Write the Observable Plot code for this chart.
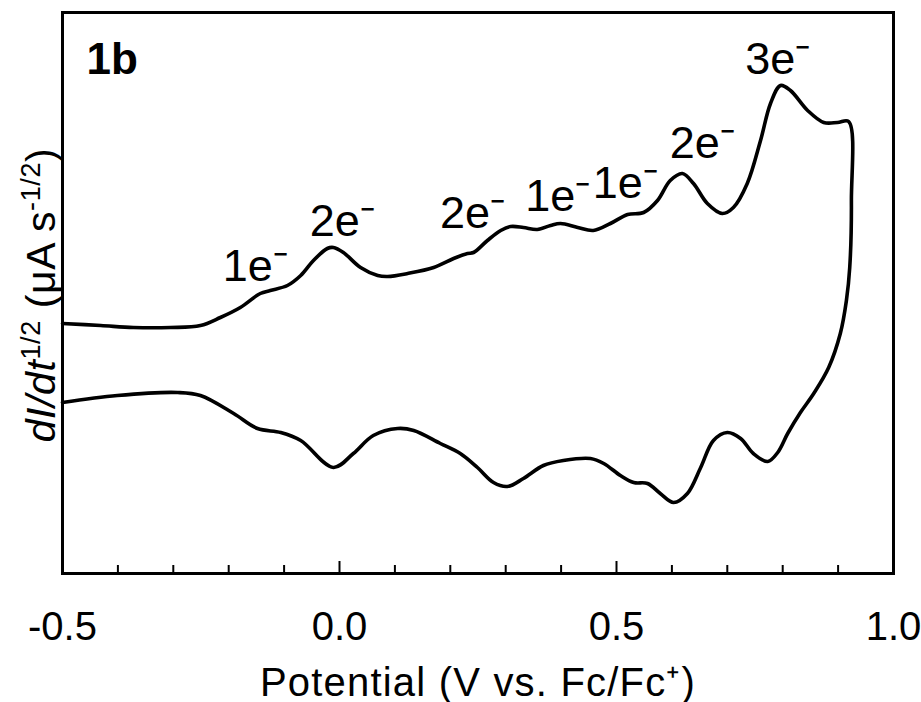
<!DOCTYPE html>
<html>
<head>
<meta charset="utf-8">
<script src="https://cdn.jsdelivr.net/npm/d3@7"></script>
<script src="https://cdn.jsdelivr.net/npm/@observablehq/plot@0.6"></script>
<style>
  html, body { margin: 0; padding: 0; background: #fff; }
  #chart svg { display: block; }
</style>
</head>
<body>
<div id="chart"></div>
<script>
// Potential (V vs. Fc/Fc+) and dI/dt^1/2 (arbitrary units)
const forwardV = [-0.500,-0.431,-0.372,-0.305,-0.251,-0.215,-0.179,-0.143,-0.125,-0.094,-0.070,-0.047,-0.022,-0.011,0.007,0.038,0.069,0.087,0.123,0.170,0.206,0.231,0.242,0.267,0.291,0.309,0.332,0.357,0.381,0.399,0.430,0.458,0.489,0.520,0.549,0.574,0.597,0.619,0.639,0.664,0.691,0.711,0.736,0.760,0.778,0.796,0.814,0.845,0.874,0.899,0.919];
const forwardI = [25.0,24.8,24.6,24.6,24.8,25.6,26.6,28.0,28.3,28.8,29.8,31.3,32.5,32.6,32.1,30.6,29.8,29.7,30.0,30.6,31.5,32.0,32.1,33.3,34.3,34.7,34.6,34.4,34.8,35.0,34.6,34.3,35.0,35.9,36.1,37.3,39.3,40.0,39.0,37.0,36.0,36.6,39.0,43.3,47.0,48.8,48.3,46.3,45.1,45.1,45.2];
const reverseV = [0.924,0.921,0.915,0.904,0.883,0.856,0.832,0.809,0.791,0.773,0.747,0.724,0.700,0.675,0.652,0.628,0.603,0.579,0.556,0.531,0.507,0.477,0.453,0.404,0.368,0.332,0.303,0.278,0.249,0.218,0.182,0.134,0.105,0.061,0.025,-0.011,-0.070,-0.106,-0.148,-0.191,-0.251,-0.292,-0.401,-0.500];
const reverseI = [37.3,30.6,27.3,24.0,20.6,18.0,16.1,14.0,12.1,11.2,12.0,13.5,14.1,13.3,10.6,8.0,7.1,8.0,9.0,9.1,9.8,11.0,11.5,11.3,10.8,9.5,8.7,9.1,10.6,12.0,13.0,14.3,14.5,13.8,12.0,10.6,13.3,14.1,14.5,16.0,17.8,18.1,17.8,17.1];

// annotations: label, potential, level of the label baseline
const annLabels = ["1e⁻","2e⁻","2e⁻","1e⁻","1e⁻","2e⁻","3e⁻"];
const annV = [-0.152,0.005,0.240,0.394,0.516,0.655,0.791];
const annI = [29.3,33.8,34.6,36.3,37.6,41.6,50.0];

const majorTicks = [-0.5, 0.0, 0.5, 1.0];
const minorTicks = [-0.4,-0.3,-0.2,-0.1,0.1,0.2,0.3,0.4,0.6,0.7,0.8,0.9];
const panelLabel = "1b";
const xTitle = "Potential (V vs. Fc/Fc⁺)";

const curve = [
  ...forwardV.map((v, i) => ({v, i: forwardI[i]})),
  ...reverseV.map((v, i) => ({v, i: reverseI[i]}))
];
const anns = annLabels.map((t, k) => ({t, v: annV[k], i: annI[k]}));

const FONT = "'Liberation Sans', Arial, Helvetica, sans-serif";

const chart = Plot.plot({
  width: 921,
  height: 702,
  marginLeft: 62,
  marginRight: 28,
  marginTop: 12,
  marginBottom: 129,
  style: {fontFamily: FONT, background: "#fff", color: "#000", overflow: "visible"},
  x: {domain: [-0.5, 1.0]},
  y: {domain: [0, 56.1], axis: null},
  marks: [
    Plot.axisX(minorTicks, {tickSize: -8, strokeWidth: 2, fill: "none", label: null}),
    Plot.axisX(majorTicks, {tickSize: -12, strokeWidth: 2, fill: "none", label: null}),
    Plot.axisX(majorTicks, {tickSize: 0, tickPadding: 38, fontSize: 40, tickFormat: d => d.toFixed(1), label: null}),
    Plot.line(curve, {x: "v", y: "i", curve: "catmull-rom", stroke: "#000", strokeWidth: 3.6, strokeLinejoin: "round"}),
    Plot.frame({stroke: "#000", strokeWidth: 3}),
    Plot.text(anns, {x: "v", y: "i", text: "t", fontSize: 45, textAnchor: "middle", lineAnchor: "bottom", fill: "#000"}),
    Plot.text([panelLabel], {frameAnchor: "top-left", dx: 24, dy: 61, lineAnchor: "bottom", textAnchor: "start", fontSize: 44, fontWeight: "bold", fill: "#000"}),
    Plot.text([xTitle], {frameAnchor: "bottom", dy: 122, lineAnchor: "bottom", textAnchor: "middle", fontSize: 40, fill: "#000", style: "letter-spacing:1.2px"})
  ]
});
document.getElementById("chart").appendChild(chart);

// x-title letter spacing
d3.select(chart).selectAll("text").filter(function() { return this.textContent === xTitle; })
  .style("letter-spacing", "1.2px");

// y-axis title with italic and superscript parts
const svg = d3.select(chart);
const yt = svg.append("text")
  .attr("transform", "translate(55,295) rotate(-90)")
  .attr("text-anchor", "middle")
  .attr("font-family", FONT)
  .attr("font-size", 41)
  .style("letter-spacing", "0.6px")
  .attr("fill", "#000");
yt.append("tspan").attr("font-style", "italic").text("dI/dt");
yt.append("tspan").attr("font-size", 27).attr("dy", -15).text("1/2");
yt.append("tspan").attr("dy", 15).text(" (μA s");
yt.append("tspan").attr("font-size", 27).attr("dy", -15).text("-1/2");
yt.append("tspan").attr("dy", 15).text(")");
</script>
</body>
</html>
